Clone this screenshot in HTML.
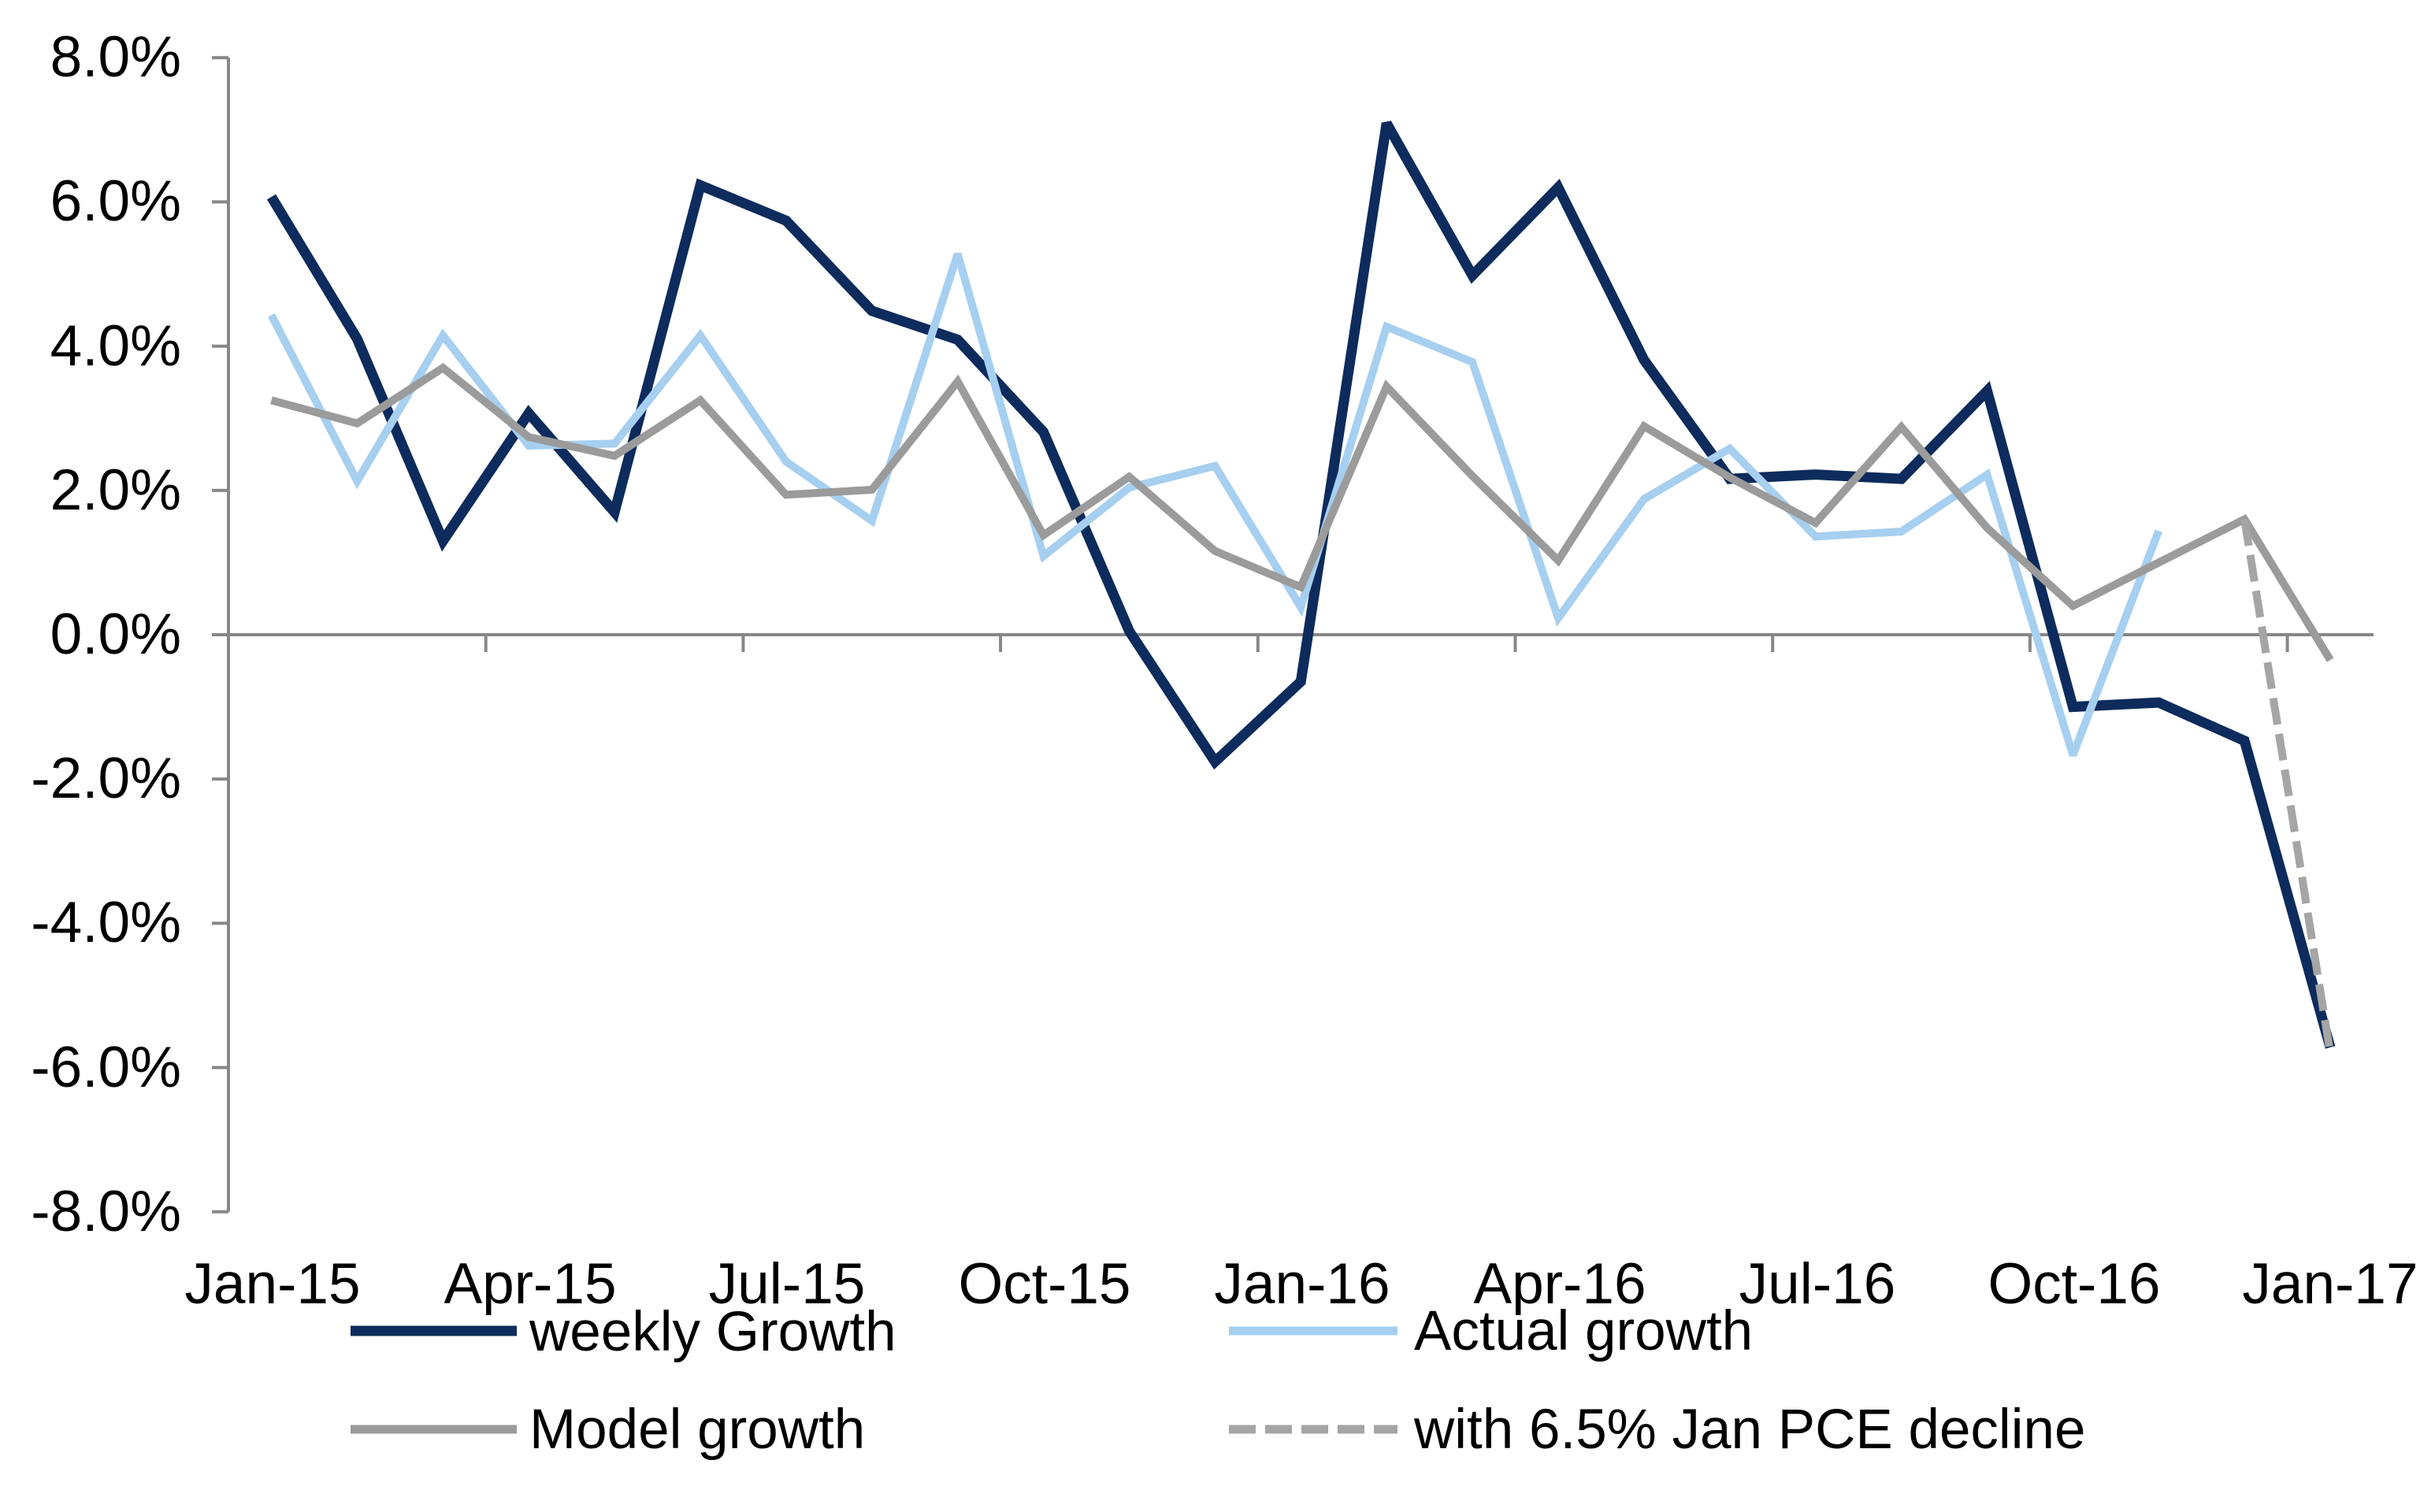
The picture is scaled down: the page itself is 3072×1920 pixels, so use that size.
<!DOCTYPE html>
<html>
<head>
<meta charset="utf-8">
<style>
  html, body { margin: 0; padding: 0; background: #ffffff; }
  body { width: 3072px; height: 1920px; overflow: hidden; }
  svg { display: block; }
  text { font-family: "Liberation Sans", Arial, sans-serif; fill: #000; }
</style>
</head>
<body>
<svg width="3072" height="1920" viewBox="0 0 3072 1920" xmlns="http://www.w3.org/2000/svg">
  <rect x="0" y="0" width="3072" height="1920" fill="#ffffff"/>

  <!-- Y axis -->
  <g stroke="#878787" stroke-width="4" fill="none">
    <line x1="290" y1="73.2" x2="290" y2="1538.8"/>
    <line x1="269" y1="73.2" x2="290" y2="73.2"/>
    <line x1="269" y1="256.4" x2="290" y2="256.4"/>
    <line x1="269" y1="439.6" x2="290" y2="439.6"/>
    <line x1="269" y1="622.8" x2="290" y2="622.8"/>
    <line x1="269" y1="806" x2="290" y2="806"/>
    <line x1="269" y1="989.2" x2="290" y2="989.2"/>
    <line x1="269" y1="1172.4" x2="290" y2="1172.4"/>
    <line x1="269" y1="1355.6" x2="290" y2="1355.6"/>
    <line x1="269" y1="1538.8" x2="290" y2="1538.8"/>
    <!-- X axis -->
    <line x1="290" y1="806" x2="3013" y2="806"/>
    <line x1="616.7" y1="806" x2="616.7" y2="828"/>
    <line x1="943.4" y1="806" x2="943.4" y2="828"/>
    <line x1="1270.1" y1="806" x2="1270.1" y2="828"/>
    <line x1="1596.8" y1="806" x2="1596.8" y2="828"/>
    <line x1="1923.5" y1="806" x2="1923.5" y2="828"/>
    <line x1="2250.2" y1="806" x2="2250.2" y2="828"/>
    <line x1="2576.9" y1="806" x2="2576.9" y2="828"/>
    <line x1="2903.6" y1="806" x2="2903.6" y2="828"/>
  </g>

  <!-- Y labels -->
  <g font-size="73" text-anchor="end">
    <text x="230" y="97">8.0%</text>
    <text x="230" y="280">6.0%</text>
    <text x="230" y="464">4.0%</text>
    <text x="230" y="647">2.0%</text>
    <text x="230" y="830">0.0%</text>
    <text x="230" y="1013">-2.0%</text>
    <text x="230" y="1196">-4.0%</text>
    <text x="230" y="1380">-6.0%</text>
    <text x="230" y="1563">-8.0%</text>
  </g>

  <!-- X labels -->
  <g font-size="73" text-anchor="middle">
    <text x="346" y="1655">Jan-15</text>
    <text x="673" y="1655">Apr-15</text>
    <text x="999" y="1655">Jul-15</text>
    <text x="1326" y="1655">Oct-15</text>
    <text x="1653" y="1655">Jan-16</text>
    <text x="1980" y="1655">Apr-16</text>
    <text x="2307" y="1655">Jul-16</text>
    <text x="2633" y="1655">Oct-16</text>
    <text x="2958" y="1655">Jan-17</text>
  </g>

  <!-- Series: weekly Growth -->
  <polyline fill="none" stroke="#0d2b5c" stroke-width="13" stroke-linejoin="miter" stroke-miterlimit="3" stroke-linecap="butt"
    points="344.5,250.0 453.4,430.4 562.3,686.9 671.2,524.8 780.1,650.3 889.0,235.3 997.9,280.2 1106.8,394.7 1215.7,431.4 1324.6,548.6 1433.5,801.4 1542.4,967.2 1651.3,865.5 1760.2,156.6 1869.1,349.8 1978.0,238.1 2086.9,457.0 2195.8,608.1 2304.7,602.6 2413.6,608.1 2522.5,496.4 2631.4,897.6 2740.3,892.1 2849.2,940.7 2958.1,1330.0"/>

  <!-- Series: Actual growth -->
  <polyline fill="none" stroke="#a6cff0" stroke-width="10" stroke-linejoin="miter" stroke-miterlimit="3" stroke-linecap="butt"
    points="344.5,400.2 453.4,610.9 562.3,425.9 671.2,566.0 780.1,563.3 889.0,425.9 997.9,586.2 1106.8,661.3 1215.7,322.4 1324.6,706.2 1433.5,619.1 1542.4,591.7 1651.3,771.2 1760.2,414.9 1869.1,459.8 1978.0,784.9 2086.9,633.8 2195.8,569.7 2304.7,681.4 2413.6,675.0 2522.5,602.6 2631.4,959.0 2740.3,674.1"/>

  <!-- Series: Model growth -->
  <polyline fill="none" stroke="#9b9b9b" stroke-width="10" stroke-linejoin="miter" stroke-miterlimit="3" stroke-linecap="butt"
    points="344.5,508.3 453.4,537.6 562.3,467.1 671.2,555.0 780.1,578.8 889.0,508.3 997.9,628.3 1106.8,621.9 1215.7,484.5 1324.6,679.6 1433.5,605.4 1542.4,699.7 1651.3,745.5 1760.2,490.9 1869.1,604.5 1978.0,711.7 2086.9,541.3 2195.8,606.3 2304.7,664.0 2413.6,542.2 2522.5,670.4 2631.4,769.4 2740.3,714.4 2849.2,659.4 2958.1,838.1"/>

  <!-- Series: with 6.5% Jan PCE decline (dashed) -->
  <polyline fill="none" stroke="#a5a5a5" stroke-width="10" stroke-dasharray="34 12"
    points="2849.2,659.4 2958.1,1337.3"/>

  <!-- Legend -->
  <line x1="445" y1="1690" x2="656" y2="1690" stroke="#0d2b5c" stroke-width="13"/>
  <text x="672" y="1715" font-size="71">weekly Growth</text>

  <line x1="1560" y1="1690" x2="1774" y2="1690" stroke="#a6cff0" stroke-width="11"/>
  <text x="1795" y="1714" font-size="71">Actual growth</text>

  <line x1="445" y1="1815" x2="656" y2="1815" stroke="#9b9b9b" stroke-width="11"/>
  <text x="672" y="1839" font-size="71">Model growth</text>

  <line x1="1560" y1="1815" x2="1774" y2="1815" stroke="#a5a5a5" stroke-width="11" stroke-dasharray="34 12"/>
  <text x="1795" y="1839" font-size="71">with 6.5% Jan PCE decline</text>
</svg>
</body>
</html>
